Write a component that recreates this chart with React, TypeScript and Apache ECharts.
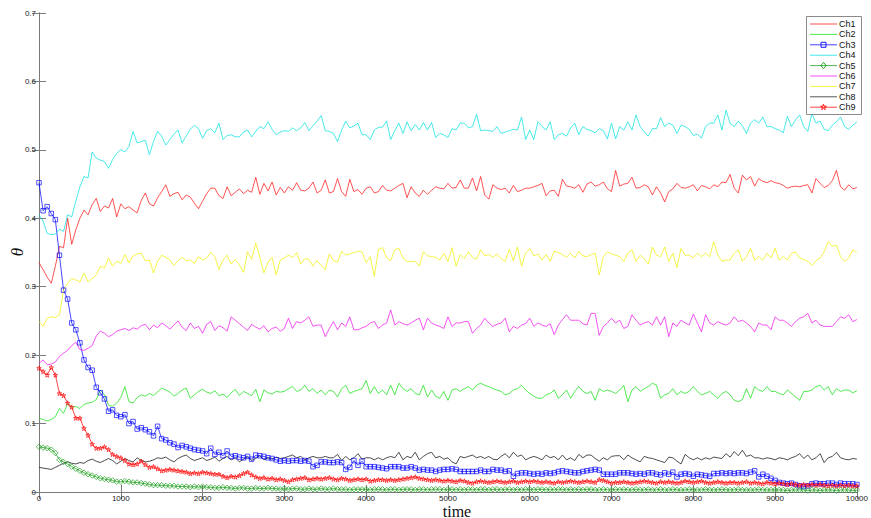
import React, { useEffect, useRef } from 'react';
import * as echarts from 'echarts';

const seriesNames = ['Ch1', 'Ch2', 'Ch3', 'Ch4', 'Ch5', 'Ch6', 'Ch7', 'Ch8', 'Ch9'];
const xTickLabels = ['0', '1000', '2000', '3000', '4000', '5000', '6000', '7000', '8000', '9000', '10000'];
const yTickLabels = ['0', '0.1', '0.2', '0.3', '0.4', '0.5', '0.6', '0.7'];
// sample times: 0, 50, 100, ... 10000
const times = Array.from({ length: 201 }, (_, i) => i * 50);

const ch1 = [
  0.335, 0.325, 0.314, 0.305, 0.330, 0.359, 0.357, 0.400, 0.362, 0.383,
  0.400, 0.412, 0.405, 0.420, 0.429, 0.410, 0.418, 0.415, 0.429, 0.402,
  0.421, 0.414, 0.417, 0.412, 0.408, 0.426, 0.437, 0.421, 0.418, 0.430,
  0.439, 0.449, 0.432, 0.436, 0.438, 0.427, 0.434, 0.431, 0.422, 0.414,
  0.425, 0.436, 0.444, 0.444, 0.433, 0.429, 0.446, 0.433, 0.438, 0.443,
  0.436, 0.441, 0.438, 0.460, 0.435, 0.451, 0.440, 0.453, 0.434, 0.445,
  0.437, 0.446, 0.441, 0.452, 0.441, 0.440, 0.444, 0.453, 0.437, 0.441,
  0.456, 0.437, 0.439, 0.458, 0.439, 0.432, 0.457, 0.439, 0.442, 0.435,
  0.444, 0.446, 0.437, 0.439, 0.448, 0.441, 0.440, 0.444, 0.448, 0.451,
  0.430, 0.446, 0.437, 0.432, 0.441, 0.435, 0.441, 0.446, 0.444, 0.443,
  0.451, 0.444, 0.445, 0.456, 0.444, 0.444, 0.459, 0.440, 0.461, 0.434,
  0.428, 0.449, 0.444, 0.442, 0.444, 0.437, 0.448, 0.439, 0.441, 0.444,
  0.444, 0.446, 0.448, 0.451, 0.433, 0.440, 0.441, 0.432, 0.457, 0.447,
  0.446, 0.444, 0.449, 0.438, 0.450, 0.453, 0.447, 0.449, 0.453, 0.443,
  0.439, 0.470, 0.447, 0.450, 0.451, 0.460, 0.444, 0.445, 0.449, 0.446,
  0.434, 0.446, 0.437, 0.424, 0.439, 0.443, 0.451, 0.445, 0.444, 0.446,
  0.449, 0.440, 0.448, 0.446, 0.443, 0.449, 0.446, 0.453, 0.452, 0.464,
  0.444, 0.437, 0.463, 0.456, 0.461, 0.447, 0.458, 0.454, 0.452, 0.455,
  0.452, 0.451, 0.448, 0.444, 0.446, 0.447, 0.446, 0.448, 0.449, 0.437,
  0.458, 0.451, 0.445, 0.448, 0.455, 0.470, 0.446, 0.441, 0.449, 0.443,
  0.445,
];

const ch2 = [
  0.108, 0.106, 0.104, 0.106, 0.110, 0.122, 0.115, 0.129, 0.124, 0.125,
  0.122, 0.128, 0.130, 0.131, 0.135, 0.149, 0.142, 0.127, 0.125, 0.130,
  0.138, 0.154, 0.132, 0.130, 0.138, 0.142, 0.140, 0.144, 0.141, 0.146,
  0.152, 0.149, 0.146, 0.140, 0.144, 0.149, 0.152, 0.137, 0.142, 0.147,
  0.150, 0.146, 0.144, 0.148, 0.141, 0.143, 0.138, 0.145, 0.150, 0.141,
  0.147, 0.144, 0.141, 0.150, 0.132, 0.149, 0.145, 0.143, 0.147, 0.146,
  0.147, 0.151, 0.154, 0.147, 0.149, 0.156, 0.147, 0.151, 0.144, 0.149,
  0.142, 0.149, 0.147, 0.139, 0.151, 0.156, 0.144, 0.147, 0.149, 0.151,
  0.163, 0.144, 0.154, 0.144, 0.149, 0.142, 0.156, 0.142, 0.159, 0.151,
  0.147, 0.151, 0.144, 0.142, 0.156, 0.139, 0.149, 0.140, 0.137, 0.147,
  0.134, 0.149, 0.151, 0.147, 0.151, 0.154, 0.149, 0.156, 0.159, 0.156,
  0.154, 0.151, 0.149, 0.147, 0.142, 0.144, 0.149, 0.151, 0.156, 0.149,
  0.144, 0.140, 0.137, 0.137, 0.142, 0.144, 0.149, 0.137, 0.142, 0.149,
  0.137, 0.147, 0.154, 0.147, 0.144, 0.147, 0.134, 0.151, 0.147, 0.149,
  0.147, 0.144, 0.149, 0.156, 0.132, 0.149, 0.154, 0.147, 0.151, 0.154,
  0.159, 0.156, 0.137, 0.142, 0.144, 0.151, 0.142, 0.147, 0.144, 0.147,
  0.154, 0.147, 0.142, 0.144, 0.147, 0.142, 0.137, 0.144, 0.147, 0.142,
  0.134, 0.132, 0.135, 0.151, 0.137, 0.154, 0.149, 0.147, 0.154, 0.147,
  0.147, 0.144, 0.142, 0.149, 0.144, 0.139, 0.134, 0.147, 0.147, 0.149,
  0.154, 0.156, 0.149, 0.154, 0.142, 0.151, 0.147, 0.149, 0.149, 0.145,
  0.148,
];

const ch3 = [
  0.452, 0.411, 0.417, 0.407, 0.398, 0.346, 0.295, 0.282, 0.247, 0.237,
  0.218, 0.193, 0.182, 0.178, 0.153, 0.145, 0.136, 0.118, 0.120, 0.112,
  0.110, 0.113, 0.100, 0.103, 0.092, 0.094, 0.091, 0.088, 0.082, 0.096,
  0.078, 0.076, 0.072, 0.070, 0.065, 0.068, 0.066, 0.064, 0.062, 0.061,
  0.060, 0.056, 0.064, 0.055, 0.058, 0.053, 0.060, 0.052, 0.053, 0.051,
  0.050, 0.052, 0.048, 0.054, 0.053, 0.052, 0.050, 0.049, 0.047, 0.045,
  0.046, 0.045, 0.046, 0.046, 0.045, 0.046, 0.045, 0.037, 0.039, 0.044,
  0.044, 0.043, 0.043, 0.044, 0.043, 0.033, 0.036, 0.046, 0.039, 0.045,
  0.037, 0.037, 0.037, 0.036, 0.035, 0.034, 0.037, 0.037, 0.037, 0.035,
  0.035, 0.037, 0.035, 0.032, 0.033, 0.032, 0.032, 0.030, 0.032, 0.033,
  0.033, 0.034, 0.033, 0.030, 0.030, 0.030, 0.030, 0.030, 0.032, 0.030,
  0.030, 0.033, 0.032, 0.032, 0.030, 0.031, 0.023, 0.027, 0.028, 0.028,
  0.027, 0.026, 0.027, 0.026, 0.028, 0.027, 0.028, 0.030, 0.031, 0.030,
  0.029, 0.028, 0.028, 0.030, 0.031, 0.032, 0.033, 0.032, 0.026, 0.026,
  0.026, 0.026, 0.028, 0.028, 0.028, 0.027, 0.026, 0.027, 0.026, 0.028,
  0.028, 0.026, 0.025, 0.028, 0.026, 0.029, 0.022, 0.026, 0.027, 0.026,
  0.023, 0.026, 0.025, 0.024, 0.023, 0.027, 0.027, 0.028, 0.027, 0.028,
  0.027, 0.028, 0.028, 0.027, 0.029, 0.031, 0.022, 0.026, 0.023, 0.020,
  0.017, 0.014, 0.013, 0.012, 0.013, 0.011, 0.009, 0.008, 0.009, 0.012,
  0.013, 0.012, 0.012, 0.013, 0.013, 0.011, 0.013, 0.012, 0.012, 0.012,
  0.011,
];

const ch4 = [
  0.405, 0.396, 0.378, 0.376, 0.377, 0.384, 0.381, 0.405, 0.402, 0.425,
  0.446, 0.461, 0.459, 0.497, 0.488, 0.485, 0.483, 0.473, 0.486, 0.495,
  0.500, 0.497, 0.505, 0.527, 0.510, 0.512, 0.514, 0.493, 0.512, 0.527,
  0.520, 0.507, 0.515, 0.523, 0.529, 0.510, 0.520, 0.530, 0.536, 0.531,
  0.517, 0.528, 0.531, 0.525, 0.539, 0.515, 0.521, 0.522, 0.519, 0.519,
  0.526, 0.529, 0.519, 0.527, 0.534, 0.531, 0.541, 0.530, 0.522, 0.526,
  0.528, 0.527, 0.532, 0.528, 0.532, 0.540, 0.528, 0.535, 0.542, 0.550,
  0.528, 0.527, 0.524, 0.512, 0.529, 0.542, 0.532, 0.535, 0.539, 0.522,
  0.522, 0.515, 0.529, 0.533, 0.533, 0.542, 0.515, 0.528, 0.539, 0.524,
  0.541, 0.528, 0.537, 0.529, 0.540, 0.529, 0.540, 0.518, 0.524, 0.522,
  0.518, 0.531, 0.529, 0.539, 0.539, 0.532, 0.534, 0.552, 0.528, 0.529,
  0.528, 0.527, 0.534, 0.524, 0.526, 0.528, 0.530, 0.529, 0.548, 0.515,
  0.529, 0.515, 0.541, 0.534, 0.529, 0.541, 0.515, 0.522, 0.524, 0.520,
  0.532, 0.539, 0.522, 0.534, 0.530, 0.528, 0.525, 0.531, 0.528, 0.516,
  0.539, 0.516, 0.534, 0.529, 0.541, 0.529, 0.551, 0.534, 0.526, 0.520,
  0.531, 0.531, 0.547, 0.534, 0.539, 0.536, 0.524, 0.536, 0.534, 0.530,
  0.521, 0.523, 0.517, 0.534, 0.539, 0.539, 0.551, 0.529, 0.558, 0.539,
  0.534, 0.542, 0.535, 0.524, 0.539, 0.544, 0.539, 0.548, 0.534, 0.534,
  0.531, 0.529, 0.525, 0.549, 0.534, 0.544, 0.551, 0.534, 0.527, 0.553,
  0.539, 0.542, 0.530, 0.528, 0.536, 0.541, 0.548, 0.534, 0.530, 0.536,
  0.541,
];

const ch5 = [
  0.066, 0.065, 0.064, 0.062, 0.057, 0.047, 0.044, 0.041, 0.037, 0.034,
  0.031, 0.028, 0.026, 0.024, 0.022, 0.020, 0.019, 0.018, 0.017, 0.015,
  0.015, 0.016, 0.015, 0.014, 0.014, 0.013, 0.012, 0.011, 0.010, 0.010,
  0.010, 0.009, 0.009, 0.009, 0.008, 0.008, 0.008, 0.007, 0.008, 0.007,
  0.008, 0.007, 0.007, 0.006, 0.006, 0.007, 0.006, 0.006, 0.005, 0.006,
  0.006, 0.005, 0.005, 0.006, 0.005, 0.005, 0.006, 0.005, 0.005, 0.004,
  0.005, 0.004, 0.005, 0.005, 0.004, 0.004, 0.005, 0.004, 0.004, 0.005,
  0.004, 0.004, 0.005, 0.004, 0.004, 0.004, 0.003, 0.004, 0.004, 0.004,
  0.004, 0.003, 0.004, 0.004, 0.004, 0.003, 0.004, 0.004, 0.003, 0.004,
  0.004, 0.004, 0.003, 0.004, 0.004, 0.003, 0.004, 0.004, 0.004, 0.003,
  0.004, 0.004, 0.003, 0.004, 0.003, 0.004, 0.004, 0.003, 0.004, 0.004,
  0.003, 0.004, 0.004, 0.003, 0.004, 0.004, 0.003, 0.004, 0.003, 0.004,
  0.004, 0.003, 0.004, 0.004, 0.003, 0.004, 0.003, 0.004, 0.004, 0.003,
  0.004, 0.003, 0.004, 0.003, 0.004, 0.004, 0.003, 0.003, 0.004, 0.003,
  0.003, 0.004, 0.003, 0.004, 0.003, 0.003, 0.004, 0.003, 0.003, 0.004,
  0.003, 0.003, 0.004, 0.003, 0.003, 0.004, 0.003, 0.003, 0.003, 0.004,
  0.003, 0.003, 0.003, 0.004, 0.003, 0.003, 0.003, 0.004, 0.003, 0.003,
  0.003, 0.004, 0.003, 0.003, 0.003, 0.003, 0.004, 0.003, 0.003, 0.003,
  0.003, 0.003, 0.003, 0.002, 0.003, 0.003, 0.003, 0.003, 0.002, 0.003,
  0.003, 0.002, 0.003, 0.003, 0.003, 0.002, 0.003, 0.003, 0.003, 0.002,
  0.003,
];

const ch6 = [
  0.188, 0.193, 0.186, 0.187, 0.190, 0.198, 0.203, 0.207, 0.214, 0.219,
  0.208, 0.207, 0.210, 0.214, 0.228, 0.235, 0.232, 0.227, 0.230, 0.235,
  0.237, 0.239, 0.236, 0.240, 0.238, 0.243, 0.245, 0.237, 0.244, 0.240,
  0.247, 0.243, 0.238, 0.244, 0.250, 0.241, 0.236, 0.247, 0.239, 0.242,
  0.232, 0.245, 0.249, 0.236, 0.243, 0.240, 0.235, 0.256, 0.251, 0.246,
  0.241, 0.236, 0.245, 0.241, 0.238, 0.243, 0.234, 0.239, 0.241, 0.235,
  0.239, 0.254, 0.239, 0.249, 0.247, 0.251, 0.256, 0.242, 0.244, 0.244,
  0.227, 0.239, 0.249, 0.237, 0.247, 0.242, 0.256, 0.237, 0.237, 0.240,
  0.242, 0.247, 0.249, 0.239, 0.244, 0.247, 0.266, 0.244, 0.249, 0.246,
  0.244, 0.247, 0.251, 0.254, 0.237, 0.254, 0.247, 0.244, 0.242, 0.239,
  0.256, 0.242, 0.247, 0.247, 0.249, 0.249, 0.232, 0.239, 0.244, 0.254,
  0.247, 0.242, 0.245, 0.247, 0.254, 0.234, 0.242, 0.239, 0.244, 0.246,
  0.254, 0.242, 0.247, 0.244, 0.242, 0.246, 0.230, 0.244, 0.252, 0.259,
  0.251, 0.251, 0.251, 0.246, 0.244, 0.261, 0.261, 0.229, 0.242, 0.247,
  0.254, 0.247, 0.251, 0.239, 0.242, 0.259, 0.251, 0.244, 0.247, 0.249,
  0.244, 0.256, 0.244, 0.256, 0.227, 0.247, 0.242, 0.251, 0.247, 0.244,
  0.260, 0.247, 0.234, 0.259, 0.247, 0.244, 0.249, 0.246, 0.244, 0.247,
  0.256, 0.249, 0.251, 0.247, 0.242, 0.234, 0.247, 0.244, 0.244, 0.237,
  0.256, 0.251, 0.251, 0.247, 0.242, 0.249, 0.254, 0.256, 0.261, 0.247,
  0.251, 0.244, 0.242, 0.242, 0.242, 0.249, 0.256, 0.254, 0.259, 0.249,
  0.252,
];

const ch7 = [
  0.249, 0.242, 0.254, 0.256, 0.255, 0.259, 0.295, 0.305, 0.312, 0.310,
  0.307, 0.320, 0.307, 0.312, 0.317, 0.330, 0.327, 0.342, 0.330, 0.337,
  0.334, 0.347, 0.335, 0.345, 0.348, 0.349, 0.338, 0.339, 0.320, 0.337,
  0.346, 0.343, 0.339, 0.331, 0.338, 0.343, 0.338, 0.339, 0.334, 0.344,
  0.339, 0.342, 0.350, 0.344, 0.325, 0.339, 0.346, 0.333, 0.340, 0.332,
  0.321, 0.351, 0.340, 0.364, 0.343, 0.320, 0.336, 0.343, 0.317, 0.339,
  0.342, 0.346, 0.343, 0.350, 0.333, 0.341, 0.340, 0.330, 0.338, 0.331,
  0.325, 0.348, 0.338, 0.336, 0.352, 0.346, 0.348, 0.350, 0.352, 0.351,
  0.335, 0.344, 0.315, 0.355, 0.357, 0.342, 0.338, 0.354, 0.356, 0.342,
  0.337, 0.337, 0.337, 0.330, 0.351, 0.345, 0.344, 0.343, 0.339, 0.349,
  0.337, 0.357, 0.330, 0.347, 0.341, 0.351, 0.343, 0.340, 0.354, 0.345,
  0.347, 0.343, 0.348, 0.341, 0.337, 0.355, 0.338, 0.358, 0.330, 0.349,
  0.356, 0.345, 0.348, 0.339, 0.347, 0.337, 0.352, 0.350, 0.347, 0.343,
  0.349, 0.342, 0.352, 0.345, 0.344, 0.347, 0.349, 0.317, 0.344, 0.351,
  0.348, 0.346, 0.344, 0.337, 0.349, 0.354, 0.337, 0.346, 0.341, 0.333,
  0.358, 0.346, 0.344, 0.358, 0.337, 0.349, 0.328, 0.356, 0.346, 0.346,
  0.342, 0.349, 0.344, 0.349, 0.344, 0.366, 0.346, 0.337, 0.339, 0.339,
  0.349, 0.354, 0.337, 0.344, 0.356, 0.339, 0.344, 0.339, 0.349, 0.342,
  0.356, 0.339, 0.344, 0.339, 0.349, 0.351, 0.342, 0.340, 0.337, 0.331,
  0.338, 0.342, 0.351, 0.366, 0.359, 0.361, 0.344, 0.337, 0.342, 0.354,
  0.349,
];

const ch8 = [
  0.036, 0.035, 0.034, 0.033, 0.036, 0.039, 0.042, 0.044, 0.042, 0.041,
  0.043, 0.042, 0.046, 0.048, 0.045, 0.043, 0.046, 0.049, 0.046, 0.041,
  0.045, 0.049, 0.046, 0.044, 0.050, 0.046, 0.044, 0.045, 0.047, 0.050,
  0.049, 0.051, 0.047, 0.044, 0.049, 0.052, 0.054, 0.049, 0.046, 0.048,
  0.050, 0.046, 0.048, 0.051, 0.045, 0.049, 0.052, 0.047, 0.050, 0.044,
  0.048, 0.051, 0.046, 0.049, 0.053, 0.047, 0.050, 0.048, 0.051, 0.049,
  0.050, 0.052, 0.054, 0.050, 0.052, 0.047, 0.050, 0.052, 0.050, 0.050,
  0.052, 0.050, 0.050, 0.055, 0.046, 0.052, 0.047, 0.050, 0.056, 0.048,
  0.050, 0.050, 0.047, 0.050, 0.047, 0.050, 0.052, 0.050, 0.058, 0.047,
  0.052, 0.050, 0.058, 0.047, 0.052, 0.056, 0.058, 0.050, 0.052, 0.048,
  0.050, 0.044, 0.041, 0.052, 0.050, 0.052, 0.054, 0.050, 0.052, 0.049,
  0.052, 0.048, 0.047, 0.052, 0.056, 0.050, 0.058, 0.052, 0.054, 0.047,
  0.050, 0.052, 0.050, 0.047, 0.054, 0.050, 0.052, 0.047, 0.054, 0.047,
  0.050, 0.046, 0.055, 0.050, 0.054, 0.054, 0.049, 0.045, 0.050, 0.047,
  0.052, 0.053, 0.053, 0.047, 0.054, 0.050, 0.047, 0.044, 0.052, 0.050,
  0.049, 0.047, 0.045, 0.043, 0.051, 0.050, 0.045, 0.041, 0.055, 0.050,
  0.047, 0.050, 0.047, 0.050, 0.048, 0.051, 0.050, 0.049, 0.056, 0.051,
  0.059, 0.053, 0.061, 0.052, 0.054, 0.050, 0.050, 0.048, 0.050, 0.049,
  0.047, 0.050, 0.049, 0.047, 0.050, 0.052, 0.056, 0.049, 0.054, 0.047,
  0.050, 0.056, 0.043, 0.050, 0.052, 0.058, 0.050, 0.048, 0.047, 0.049,
  0.048,
];

const ch9 = [
  0.181, 0.176, 0.171, 0.182, 0.171, 0.144, 0.141, 0.130, 0.124, 0.108,
  0.108, 0.093, 0.083, 0.070, 0.064, 0.064, 0.066, 0.062, 0.055, 0.052,
  0.050, 0.046, 0.041, 0.040, 0.041, 0.045, 0.040, 0.036, 0.037, 0.034,
  0.031, 0.032, 0.033, 0.032, 0.031, 0.030, 0.029, 0.027, 0.028, 0.027,
  0.029, 0.028, 0.027, 0.026, 0.026, 0.023, 0.021, 0.023, 0.022, 0.024,
  0.027, 0.029, 0.025, 0.022, 0.020, 0.021, 0.019, 0.020, 0.018, 0.019,
  0.017, 0.015, 0.018, 0.019, 0.020, 0.021, 0.018, 0.019, 0.020, 0.019,
  0.020, 0.021, 0.019, 0.018, 0.020, 0.019, 0.017, 0.018, 0.019, 0.018,
  0.019, 0.016, 0.017, 0.018, 0.018, 0.017, 0.018, 0.017, 0.018, 0.019,
  0.020, 0.021, 0.022, 0.020, 0.019, 0.018, 0.017, 0.018, 0.017, 0.016,
  0.017, 0.016, 0.015, 0.017, 0.016, 0.014, 0.013, 0.015, 0.016, 0.015,
  0.014, 0.015, 0.016, 0.015, 0.014, 0.015, 0.016, 0.014, 0.015, 0.016,
  0.015, 0.016, 0.015, 0.014, 0.015, 0.014, 0.013, 0.015, 0.014, 0.015,
  0.016, 0.015, 0.014, 0.015, 0.016, 0.015, 0.014, 0.018, 0.017, 0.015,
  0.013, 0.014, 0.014, 0.015, 0.014, 0.013, 0.014, 0.015, 0.016, 0.015,
  0.014, 0.013, 0.015, 0.014, 0.015, 0.014, 0.013, 0.014, 0.016, 0.015,
  0.014, 0.015, 0.016, 0.014, 0.013, 0.014, 0.015, 0.014, 0.013, 0.014,
  0.014, 0.013, 0.014, 0.015, 0.013, 0.014, 0.013, 0.012, 0.014, 0.013,
  0.012, 0.013, 0.012, 0.011, 0.012, 0.011, 0.010, 0.011, 0.010, 0.011,
  0.010, 0.011, 0.010, 0.009, 0.010, 0.009, 0.010, 0.009, 0.010, 0.009,
  0.009,
];

const seriesValues = [ch1, ch2, ch3, ch4, ch5, ch6, ch7, ch8, ch9];
const seriesColors = ['#ff1010', '#10e010', '#0000ff', '#00e0e0', '#169c16', '#f010f0', '#f0f000', '#202020', '#ff0000'];
const seriesMarkers = ['none', 'none', 'square', 'none', 'diamond', 'none', 'none', 'none', 'star'];

const STAR_PATH =
  'path://M50,0 L61.8,35.1 L97.6,34.5 L69,56.1 L79.4,90.5 L50,69.6 L20.6,90.5 L31,56.1 L2.4,34.5 L38.2,35.1 Z';

function starPoints(cx: number, cy: number, r: number): number[][] {
  const pts: number[][] = [];
  for (let k = 0; k < 10; k++) {
    const ang = -Math.PI / 2 + (k * Math.PI) / 5;
    const rr = k % 2 === 0 ? r : r * 0.4;
    pts.push([cx + rr * Math.cos(ang), cy + rr * Math.sin(ang)]);
  }
  return pts;
}

export default function App() {
  const ref = useRef<HTMLDivElement>(null);

  useEffect(() => {
    if (!ref.current) return;
    const chart = echarts.init(ref.current, null, { renderer: 'svg' });
    const axisColor = '#7a7a7a';
    const labelFont = { fontFamily: '"Liberation Sans", Arial, sans-serif', fontSize: 8, color: '#222' };

    const series = seriesNames.map((name, i) => {
      const mk = seriesMarkers[i];
      const color = seriesColors[i];
      const data = times.map((t, k) => [t, seriesValues[i][k]]);
      const symbol = mk === 'square' ? 'rect' : mk === 'diamond' ? 'diamond' : mk === 'star' ? STAR_PATH : 'none';
      const size = mk === 'square' ? 4.5 : mk === 'diamond' ? 5.5 : mk === 'star' ? 4.5 : 0;
      return {
        name,
        type: 'line',
        data,
        color,
        symbol,
        symbolSize: size,
        showSymbol: mk !== 'none',
        showAllSymbol: true,
        lineStyle: { color, width: 1, opacity: name === 'Ch8' ? 0.8 : 0.72 },
        itemStyle:
          mk === 'none'
            ? { color }
            : { color: 'rgba(255,255,255,0)', borderColor: color, borderWidth: 0.8, opacity: 0.85 },
        emphasis: { disabled: true },
        z: 2,
      };
    });

    // custom MATLAB-like legend
    const lgX = 806;
    const lgY = 16;
    const lgW = 55;
    const lgH = 98;
    const rowH = 10.4;
    const legendEls: any[] = [
      {
        type: 'rect',
        shape: { x: lgX + 0.5, y: lgY + 0.5, width: lgW, height: lgH },
        style: { fill: '#ffffff', stroke: '#8a8a8a', lineWidth: 1 },
        z: 100,
      },
    ];
    seriesNames.forEach((name, i) => {
      const cy = lgY + 8 + i * rowH;
      const color = seriesColors[i];
      legendEls.push({
        type: 'line',
        shape: { x1: lgX + 4, y1: cy, x2: lgX + 31, y2: cy },
        style: { stroke: color, lineWidth: 1, opacity: 0.75 },
        z: 101,
      });
      const mx = lgX + 17.5;
      const mk = seriesMarkers[i];
      if (mk === 'square') {
        legendEls.push({
          type: 'rect',
          shape: { x: mx - 2.5, y: cy - 2.5, width: 5, height: 5 },
          style: { fill: 'none', stroke: color, lineWidth: 0.9 },
          z: 102,
        });
      } else if (mk === 'diamond') {
        legendEls.push({
          type: 'polygon',
          shape: { points: [[mx, cy - 3.2], [mx + 2.6, cy], [mx, cy + 3.2], [mx - 2.6, cy]] },
          style: { fill: 'none', stroke: color, lineWidth: 0.9 },
          z: 102,
        });
      } else if (mk === 'star') {
        legendEls.push({
          type: 'polygon',
          shape: { points: starPoints(mx, cy, 3) },
          style: { fill: 'none', stroke: color, lineWidth: 0.9 },
          z: 102,
        });
      }
      legendEls.push({
        type: 'text',
        x: lgX + 33,
        y: cy,
        style: {
          text: name,
          font: '9px "Liberation Sans", Arial, sans-serif',
          fill: '#111',
          align: 'left',
          verticalAlign: 'middle',
        },
        z: 102,
      });
    });

    const option = {
      animation: false,
      grid: { left: 39, right: 10, top: 13, bottom: 26, show: false },
      xAxis: [
        {
          type: 'value',
          min: 0,
          max: 10000,
          interval: 1000,
          position: 'bottom',
          axisLine: { show: true, lineStyle: { color: axisColor, width: 1 } },
          axisTick: { show: true, inside: true, length: 7, lineStyle: { color: axisColor } },
          axisLabel: { ...labelFont, margin: 2, formatter: (v: number) => xTickLabels[Math.round(v / 1000)] ?? '' },
          splitLine: { show: false },
        },
        {
          type: 'value',
          min: 0,
          max: 10000,
          interval: 1000,
          position: 'top',
          axisLine: { show: true, lineStyle: { color: axisColor, width: 1 } },
          axisTick: { show: true, inside: true, length: 7, lineStyle: { color: axisColor } },
          axisLabel: { show: false },
          splitLine: { show: false },
        },
      ],
      yAxis: [
        {
          type: 'value',
          min: 0,
          max: 0.7,
          interval: 0.1,
          position: 'left',
          axisLine: { show: true, lineStyle: { color: axisColor, width: 1 } },
          axisTick: { show: true, inside: true, length: 7, lineStyle: { color: axisColor } },
          axisLabel: { ...labelFont, margin: 3, formatter: (v: number) => yTickLabels[Math.round(v * 10)] ?? '' },
          splitLine: { show: false },
        },
        {
          type: 'value',
          min: 0,
          max: 0.7,
          interval: 0.1,
          position: 'right',
          axisLine: { show: true, lineStyle: { color: axisColor, width: 1 } },
          axisTick: { show: true, inside: true, length: 7, lineStyle: { color: axisColor } },
          axisLabel: { show: false },
          splitLine: { show: false },
        },
      ],
      graphic: [
        {
          type: 'text',
          x: 17,
          y: 252,
          rotation: Math.PI / 2,
          style: {
            text: 'θ',
            font: 'italic 17px "Liberation Serif", "DejaVu Serif", serif',
            fill: '#111',
            align: 'center',
            verticalAlign: 'middle',
          },
        },
        {
          type: 'text',
          x: 457,
          y: 519,
          style: {
            text: 'time',
            font: '16px "Liberation Serif", "DejaVu Serif", serif',
            fill: '#111',
            align: 'center',
            verticalAlign: 'bottom',
          },
        },
        ...legendEls,
      ],
      series,
    };

    chart.setOption(option as any);
    return () => chart.dispose();
  }, []);

  return <div ref={ref} style={{ position: 'absolute', left: 0, top: 0, width: 871, height: 518, background: '#fff' }} />;
}
